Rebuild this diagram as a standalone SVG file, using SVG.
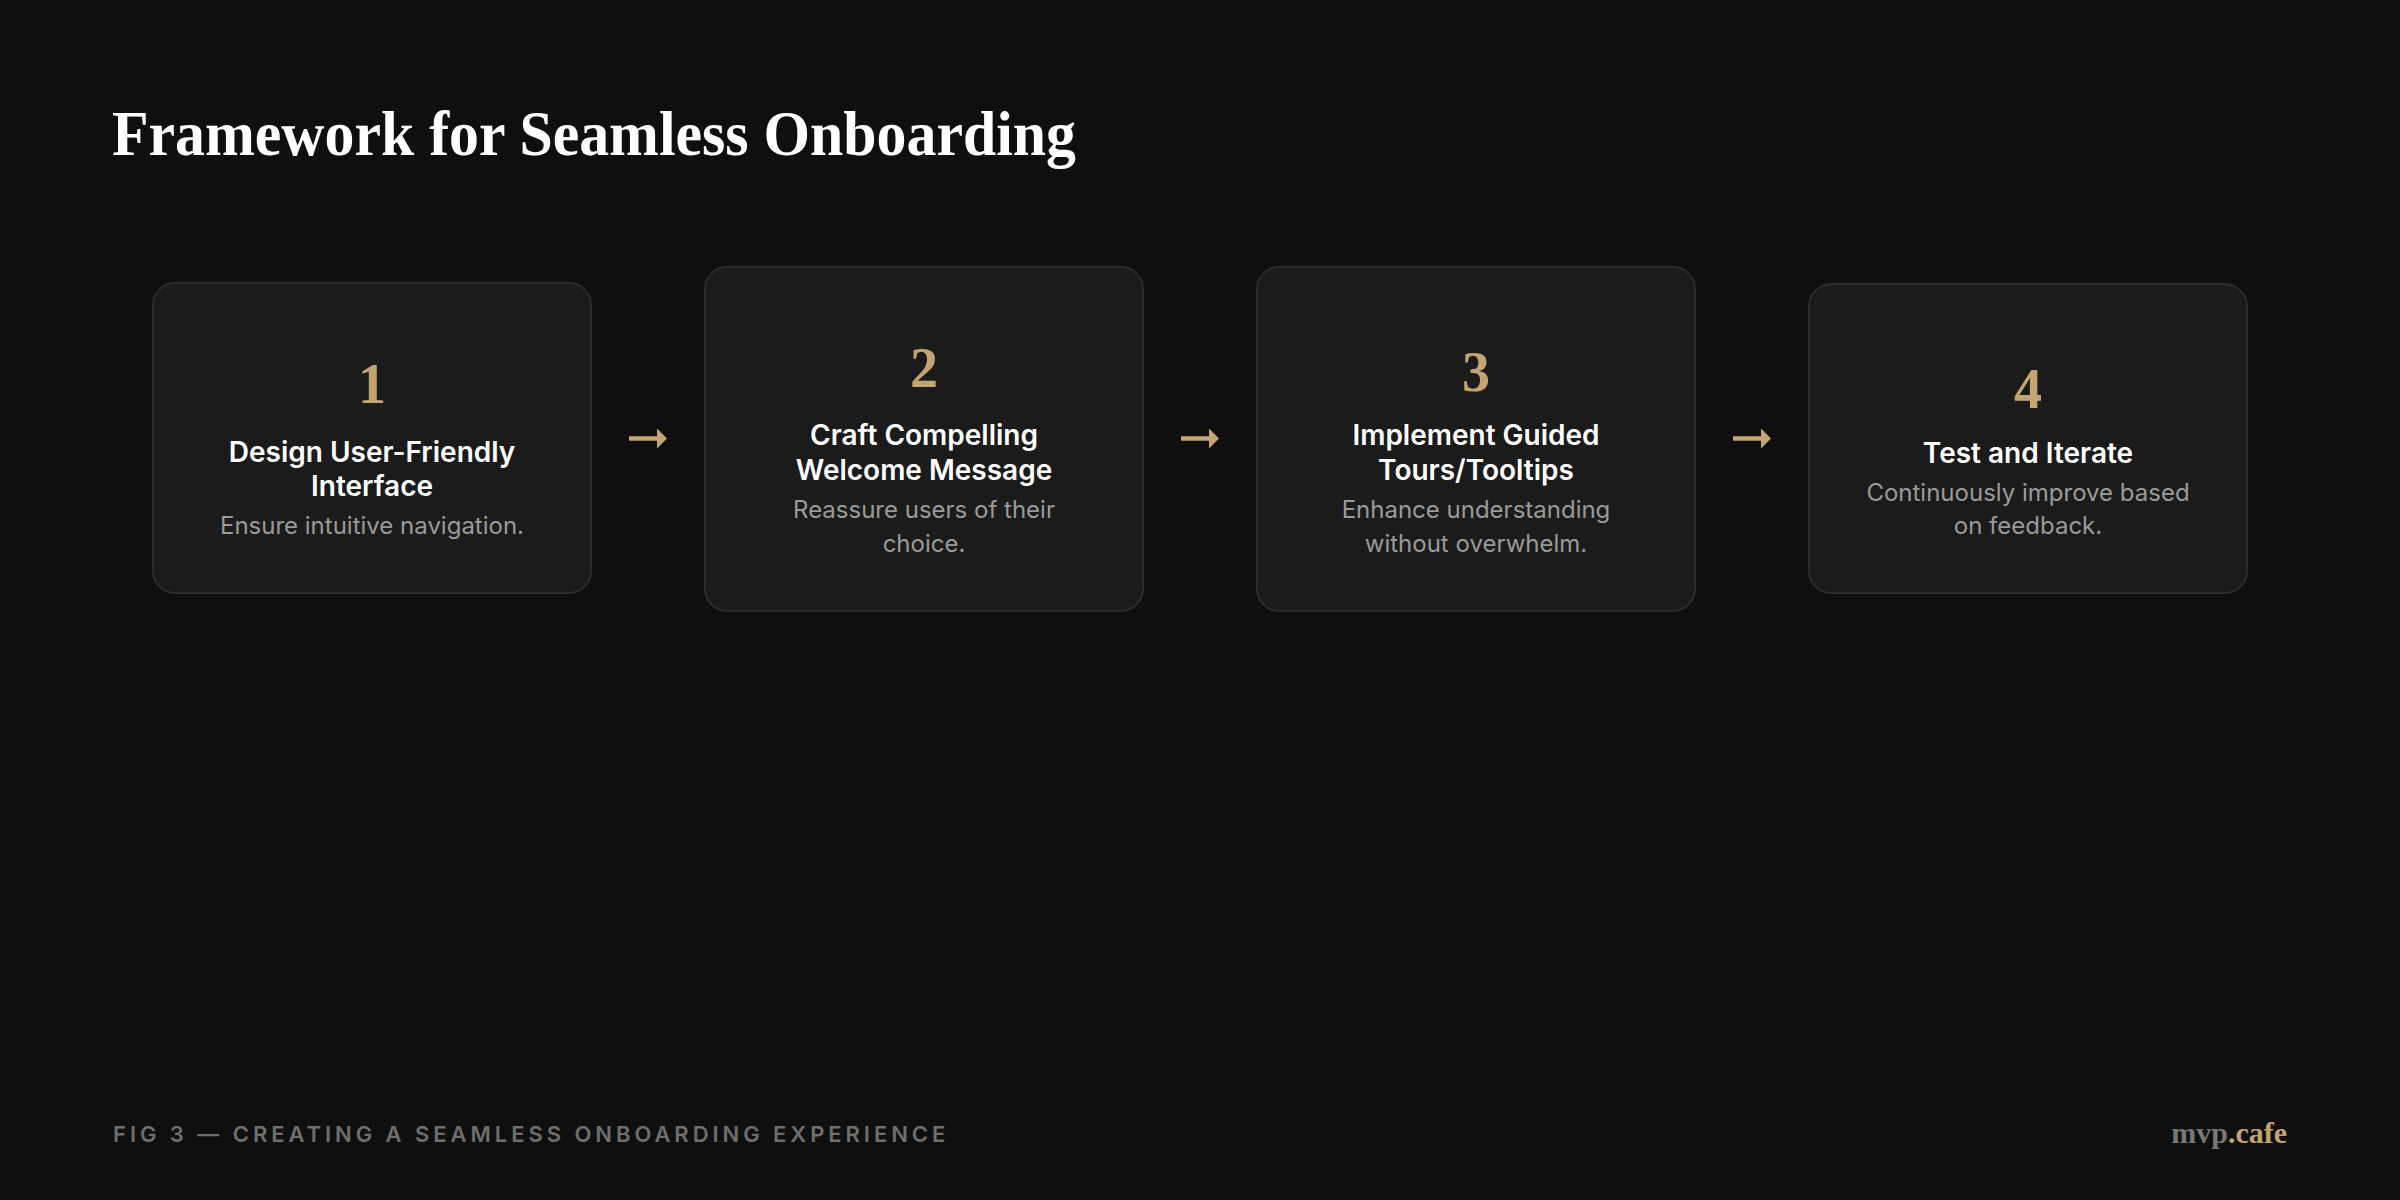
<svg xmlns="http://www.w3.org/2000/svg" width="2400" height="1200" viewBox="0 0 2400 1200">
  <defs>
    <style>
      .card { fill: #1b1b1b; stroke: #2c2c2c; stroke-width: 2; }
      .num { font-family: "Liberation Serif", "DejaVu Serif", serif; font-weight: 700; font-size: 56px; fill: #c4a572; text-anchor: middle; }
      .title { font-family: Inter, "Liberation Sans", sans-serif; font-weight: 600; font-size: 28px; fill: #ffffff; text-anchor: middle; }
      .desc { font-family: Inter, "Liberation Sans", sans-serif; font-weight: 400; font-size: 24px; fill: #9a9a9a; text-anchor: middle; }
      .conn { stroke: #c4a572; stroke-width: 4.5; fill: none; }
    </style>
    <marker id="ah" viewBox="0 0 10 20" refX="0" refY="10" markerWidth="10" markerHeight="20" markerUnits="userSpaceOnUse" orient="auto">
      <path d="M0,0 L10,10 L0,20 Z" fill="#c4a572"/>
    </marker>
  </defs>
  <rect x="0" y="0" width="2400" height="1200" fill="#0f0f0f"/>

  <text x="112" y="155" font-family="Liberation Serif, DejaVu Serif, serif" font-weight="700" font-size="63" fill="#ffffff" textLength="964" lengthAdjust="spacingAndGlyphs">Framework for Seamless Onboarding</text>

  <g id="connectors">
    <line class="conn" x1="629" y1="438.5" x2="657" y2="438.5" marker-end="url(#ah)"/>
    <line class="conn" x1="1181" y1="438.5" x2="1209" y2="438.5" marker-end="url(#ah)"/>
    <line class="conn" x1="1733" y1="438.5" x2="1761" y2="438.5" marker-end="url(#ah)"/>
  </g>

  <g id="node1">
    <rect class="card" x="153" y="283" width="438" height="310" rx="22"/>
    <text class="num" x="372" y="403">1</text>
    <text class="title" x="372" y="462">Design User-Friendly</text>
    <text class="title" x="372" y="496">Interface</text>
    <text class="desc" x="372" y="534">Ensure intuitive navigation.</text>
  </g>

  <g id="node2">
    <rect class="card" x="705" y="267" width="438" height="344" rx="22"/>
    <text class="num" x="924" y="387">2</text>
    <text class="title" x="924" y="445">Craft Compelling</text>
    <text class="title" x="924" y="480">Welcome Message</text>
    <text class="desc" x="924" y="518">Reassure users of their</text>
    <text class="desc" x="924" y="552">choice.</text>
  </g>

  <g id="node3">
    <rect class="card" x="1257" y="267" width="438" height="344" rx="22"/>
    <text class="num" x="1476" y="391">3</text>
    <text class="title" x="1476" y="445">Implement Guided</text>
    <text class="title" x="1476" y="480">Tours/Tooltips</text>
    <text class="desc" x="1476" y="518">Enhance understanding</text>
    <text class="desc" x="1476" y="552">without overwhelm.</text>
  </g>

  <g id="node4">
    <rect class="card" x="1809" y="284" width="438" height="309" rx="22"/>
    <text class="num" x="2028" y="408">4</text>
    <text class="title" x="2028" y="463">Test and Iterate</text>
    <text class="desc" x="2028" y="501">Continuously improve based</text>
    <text class="desc" x="2028" y="534">on feedback.</text>
  </g>

  <text x="113" y="1142" font-family="Inter, Liberation Sans, sans-serif" font-weight="600" font-size="22" fill="#6e6e6e" letter-spacing="3.95">FIG 3 — CREATING A SEAMLESS ONBOARDING EXPERIENCE</text>

  <text x="2287" y="1143" text-anchor="end" font-family="Liberation Serif, DejaVu Serif, serif" font-weight="700" font-size="30"><tspan fill="#777777">mvp</tspan><tspan fill="#c4a572">.cafe</tspan></text>
</svg>
